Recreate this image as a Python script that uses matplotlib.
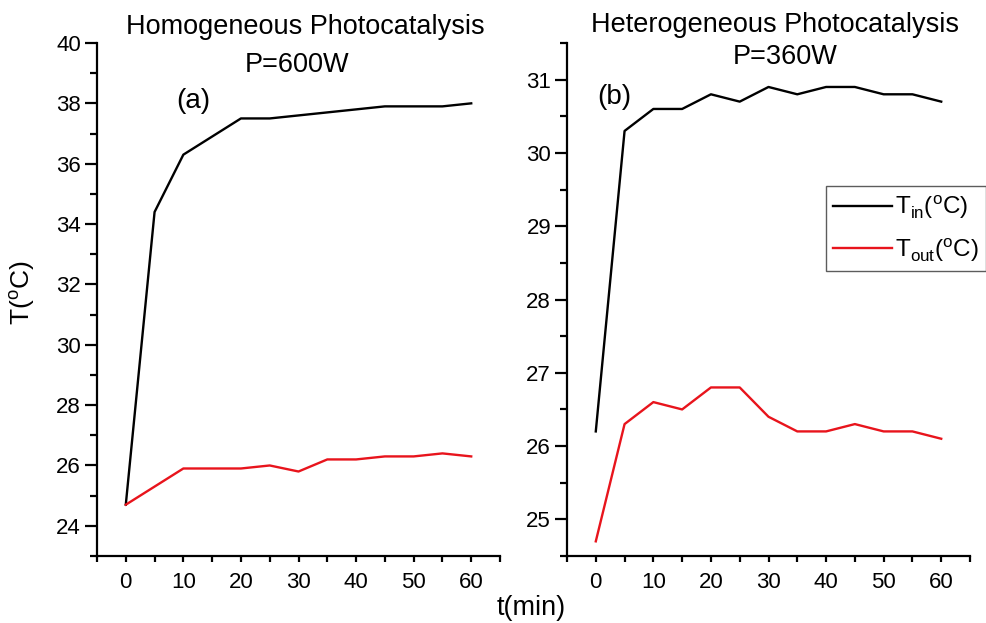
import matplotlib
matplotlib.use('Agg')
import matplotlib.pyplot as plt
from matplotlib.ticker import MultipleLocator

plt.rcParams['font.family'] = ['Liberation Sans', 'DejaVu Sans']
plt.rcParams['mathtext.fontset'] = 'custom'
plt.rcParams['mathtext.rm'] = 'Liberation Sans'

# (a) homogeneous, P=600W
t_in_a = [0, 5, 10, 20, 25, 45, 55, 60]
T_in_a = [24.7, 34.4, 36.3, 37.5, 37.5, 37.9, 37.9, 38.0]
t_out_a = [0, 10, 20, 25, 30, 35, 40, 45, 50, 55, 60]
T_out_a = [24.7, 25.9, 25.9, 26.0, 25.8, 26.2, 26.2, 26.3, 26.3, 26.4, 26.3]

# (b) heterogeneous, P=360W
t_b = [0, 5, 10, 15, 20, 25, 30, 35, 40, 45, 50, 55, 60]
T_in_b = [26.2, 30.3, 30.6, 30.6, 30.8, 30.7, 30.9, 30.8, 30.9, 30.9, 30.8, 30.8, 30.7]
T_out_b = [24.7, 26.3, 26.6, 26.5, 26.8, 26.8, 26.4, 26.2, 26.2, 26.3, 26.2, 26.2, 26.1]

W, H = 986, 623
fig = plt.figure(figsize=(W / 100, H / 100), dpi=100)

def box(x0, x1, y0, y1):
    return [x0 / W, 1 - y1 / H, (x1 - x0) / W, (y1 - y0) / H]

ax1 = fig.add_axes(box(97, 500, 43, 556))
ax2 = fig.add_axes(box(567, 970, 43, 556))

ax1.plot(t_in_a, T_in_a, color='black', lw=1.7)
ax1.plot(t_out_a, T_out_a, color='#e8141c', lw=1.7)
l1, = ax2.plot(t_b, T_in_b, color='black', lw=1.7)
l2, = ax2.plot(t_b, T_out_b, color='#e8141c', lw=1.7)

ax1.set_ylim(23, 40)
ax1.yaxis.set_major_locator(MultipleLocator(2))
ax1.yaxis.set_minor_locator(MultipleLocator(1))
ax2.set_ylim(24.5, 31.5)
ax2.yaxis.set_major_locator(MultipleLocator(1))
ax2.yaxis.set_minor_locator(MultipleLocator(0.5))

for ax in (ax1, ax2):
    ax.set_xlim(-5, 65)
    ax.xaxis.set_major_locator(MultipleLocator(10))
    ax.xaxis.set_minor_locator(MultipleLocator(5))
    for s in ('top', 'right'):
        ax.spines[s].set_visible(False)
    for s in ('left', 'bottom'):
        ax.spines[s].set_linewidth(1.6)
    ax.tick_params(which='both', direction='out', width=1.6, labelsize=16)
    ax.tick_params(axis='y', which='major', length=8.5, pad=3)
    ax.tick_params(axis='y', which='minor', length=5)
    ax.tick_params(axis='x', which='both', length=4.5)
    ax.tick_params(axis='x', which='major', pad=7)

title_kw = dict(ha='center', va='center', fontsize=19.5)
fig.text(305 / W, 1 - 27 / H, 'Homogeneous Photocatalysis', **title_kw)
fig.text(297 / W, 1 - 65 / H, 'P=600W', **title_kw)
fig.text(775 / W, 1 - 25 / H, 'Heterogeneous Photocatalysis', **title_kw)
fig.text(785 / W, 1 - 57 / H, 'P=360W', **title_kw)

fig.text(193 / W, 1 - 101 / H, '(a)', ha='center', va='center', fontsize=20)
fig.text(614 / W, 1 - 97 / H, '(b)', ha='center', va='center', fontsize=20)

fig.text(22 / W, 1 - 293 / H, r'T($^{\rm o}$C)', rotation=90, ha='center',
         va='center', fontsize=19)
fig.text(531 / W, 1 - 608 / H, 't(min)', ha='center', va='center', fontsize=19.5)

leg = fig.legend([l1, l2], [r'T$_{\rm in}$($^{\rm o}$C)', r'T$_{\rm out}$($^{\rm o}$C)'],
                 loc='upper left', bbox_to_anchor=(826 / W, 1 - 186 / H),
                 fontsize=17.5, frameon=True, fancybox=False, handlelength=2.4,
                 handletextpad=0.15, borderpad=0.3, labelspacing=0.6,
                 borderaxespad=0)
leg.get_frame().set_edgecolor('#333333')
leg.get_frame().set_linewidth(1.0)

fig.savefig('out.png', dpi=100)
